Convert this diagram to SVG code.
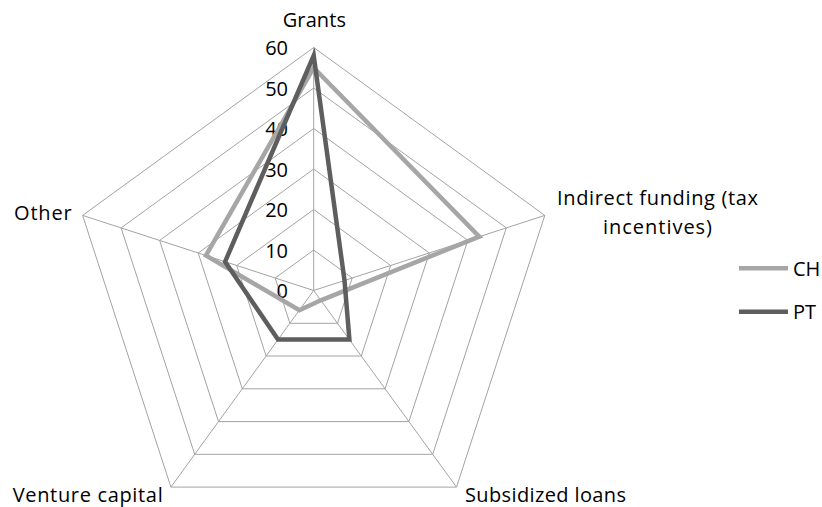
<svg xmlns="http://www.w3.org/2000/svg" width="822" height="507" viewBox="0 0 822 507">
<style>
text{font-family:"Open Sans","Liberation Sans",sans-serif;font-size:20px;fill:#000}
.grid{fill:none;stroke:#a3a3a3;stroke-width:1}
.tick{text-anchor:end}
.ch{fill:none;stroke:#a6a6a6;stroke-width:4.5;stroke-linejoin:miter}
.pt{fill:none;stroke:#5e5e5e;stroke-width:4.5;stroke-linejoin:miter}
</style>
<rect width="822" height="507" fill="#fff"/>
<g id="grid">
<polygon class="grid" points="313.7,250.0 352.2,278.0 337.5,323.3 289.9,323.3 275.2,278.0"/>
<polygon class="grid" points="313.7,209.5 390.7,265.5 361.3,356.0 266.1,356.0 236.7,265.5"/>
<polygon class="grid" points="313.7,169.0 429.3,253.0 385.1,388.8 242.3,388.8 198.2,253.0"/>
<polygon class="grid" points="313.7,128.5 467.8,240.4 408.9,421.6 218.5,421.6 159.6,240.4"/>
<polygon class="grid" points="313.7,88.0 506.3,227.9 432.7,454.3 194.7,454.3 121.1,227.9"/>
<polygon class="grid" points="313.7,47.5 544.8,215.4 456.5,487.1 170.9,487.1 82.6,215.4"/>
<path class="grid" d="M313.7,290.5L313.7,47.5M313.7,290.5L544.8,215.4M313.7,290.5L456.5,487.1M313.7,290.5L170.9,487.1M313.7,290.5L82.6,215.4"/>
</g>
<g id="ticks">
<text class="tick" x="288" y="298">0</text>
<text class="tick" x="288" y="257.5">10</text>
<text class="tick" x="288" y="217">20</text>
<text class="tick" x="288" y="176.5">30</text>
<text class="tick" x="288" y="136">40</text>
<text class="tick" x="288" y="95.5">50</text>
<text class="tick" x="288" y="55">60</text>
</g>
<g id="axis-labels">
<text x="282.7" y="26.5" textLength="63.3">Grants</text>
<text x="557" y="205" textLength="201">Indirect funding (tax</text>
<text x="603" y="234" textLength="109">incentives)</text>
<text x="465" y="502" textLength="161">Subsidized loans</text>
<text x="12.7" y="502" textLength="150">Venture capital</text>
<text x="14" y="220" textLength="57.7">Other</text>
</g>
<g id="connectors">
<polygon id="series-CH" class="ch" points="313.7,67.75 479.3,236.7 320.8,300.3 299.4,310.2 205.9,255.5"/>
<polygon id="series-PT" class="pt" points="313.7,55.6 344.5,280.5 349.4,339.6 278.0,339.6 225.1,261.7"/>
</g>
<g id="legend">
<line class="ch" x1="739" y1="268.3" x2="788" y2="268.3"/>
<text x="793" y="275.5">CH</text>
<line class="pt" x1="739" y1="311.7" x2="788" y2="311.7"/>
<text x="793" y="319">PT</text>
</g>
</svg>
